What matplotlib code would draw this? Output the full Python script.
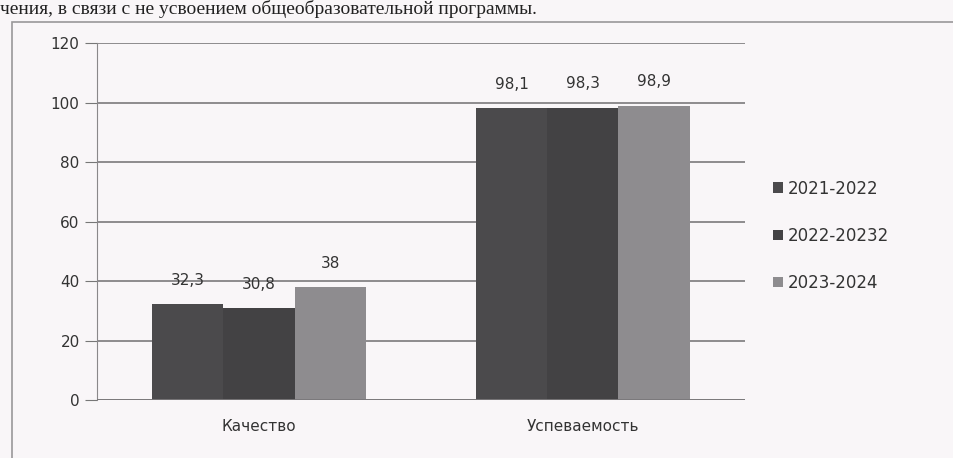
import matplotlib.pyplot as plt
import matplotlib.patches as patches
import numpy as np

categories = ["Качество", "Успеваемость"]
years = ["2021-2022", "2022-20232", "2023-2024"]
values = {
    "2021-2022": [32.3, 98.1],
    "2022-20232": [30.8, 98.3],
    "2023-2024": [38, 98.9],
}
value_labels = {
    "2021-2022": ["32,3", "98,1"],
    "2022-20232": ["30,8", "98,3"],
    "2023-2024": ["38", "98,9"],
}
colors = ["#4b4a4c", "#434244", "#8e8c8f"]
bg = "#f9f6f8"

fig = plt.figure(figsize=(9.54, 4.58), dpi=100, facecolor=bg)
ax = fig.add_axes([0.1017, 0.1266, 0.679, 0.7794], facecolor=bg)

# line of text above the chart (scanned page)
fig.text(0.0, 0.999, "чения, в связи с не усвоением общеобразовательной программы.",
         family="Liberation Serif", fontsize=14, color="#222222", va="top", ha="left")

# outer chart frame
frame = patches.Rectangle((12 / 954, -0.01), 1.0, 1 - 22 / 458 + 0.01,
                          transform=fig.transFigure, fill=False, ec="#9a989a", lw=1.2)
fig.patches.append(frame)

x = np.arange(len(categories))
w = 0.22
for i, yr in enumerate(years):
    pos = x + (i - 1) * w
    ax.bar(pos, values[yr], width=w, color=colors[i], label=yr, zorder=3)
    for px, v, lab in zip(pos, values[yr], value_labels[yr]):
        ax.text(px, v + 5.5, lab, ha="center", va="bottom", fontsize=11, color="#333333")

ax.set_xlim(-0.5, 1.5)
ax.set_ylim(0, 120)
ax.set_yticks(range(0, 121, 20))
ax.set_xticks(x)
ax.set_xticklabels(categories, fontsize=11, color="#333333")
ax.tick_params(axis="y", labelsize=11, labelcolor="#333333", direction="out",
               length=9, color="#777777")
ax.tick_params(axis="x", length=0, pad=14)
ax.grid(axis="y", color="#858385", lw=1.3, zorder=0)
for s in ["top", "right", "bottom"]:
    ax.spines[s].set_visible(False)
ax.spines["left"].set_color("#8a888a")
ax.axhline(0, color="#7a787a", lw=1.3, zorder=4)

ax.legend(loc="center left", bbox_to_anchor=(1.02, 0.46), frameon=False,
          fontsize=12, handlelength=0.6, handleheight=0.6, handletextpad=0.3,
          labelspacing=1.75, labelcolor="#333333")

fig.savefig("out.png", dpi=100, facecolor=bg)
